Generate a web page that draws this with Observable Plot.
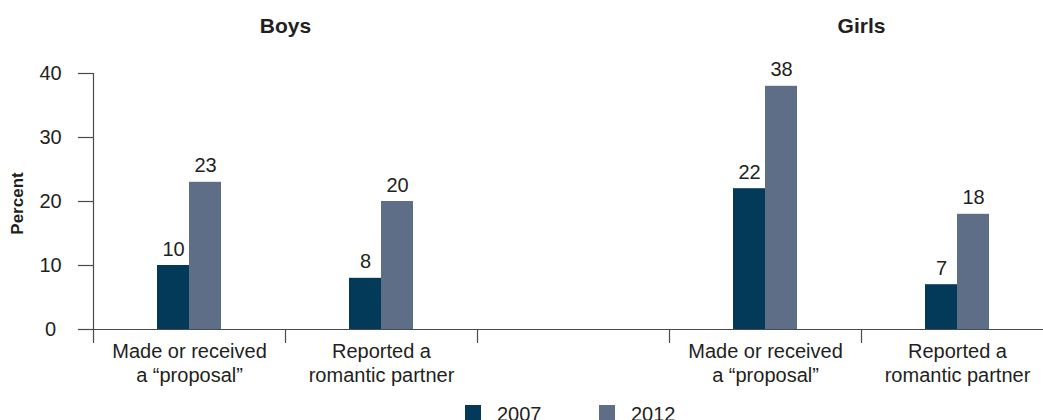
<!DOCTYPE html>
<html>
<head>
<meta charset="utf-8">
<script src="https://cdn.jsdelivr.net/npm/d3@7"></script>
<script src="https://cdn.jsdelivr.net/npm/@observablehq/plot@0.6"></script>
<style>
  body { margin: 0; background: #fff; font-family: "Liberation Sans", Arial, sans-serif; }
  #legend { display: flex; margin-left: 465px; margin-top: 5px; height: 20px; }
  .item { display: flex; align-items: flex-start; width: 134px; }
  .sw { width: 16px; height: 16px; margin-right: 16px; flex: none; }
  .lab { font-size: 20px; line-height: 20px; margin-top: -1px; color: #231f20; }
</style>
</head>
<body>
<div id="chart"></div>
<div id="legend"></div>
<script>
// ---- data ----
const slots = ["boysProposal", "boysPartner", "gap", "girlsProposal", "girlsPartner"];
const slotLabels = ["Made or received\na \u201cproposal\u201d", "Reported a\nromantic partner", "", "Made or received\na \u201cproposal\u201d", "Reported a\nromantic partner"];
const groups = ["Boys", "Girls"];
const groupTitleSlots = ["boysPartner", "girlsPartner"];
const years = ["2007", "2012"];
const values2007 = [10, 8, null, 22, 7];
const values2012 = [23, 20, null, 38, 18];
const yTicks = [0, 10, 20, 30, 40];
const colors = ["#033a59", "#5f6e87"];

const textColor = "#231f20";
const axisColor = "#4a4a4a";

// keep the empty "gap" slot in the data (null values) so its facet is not treated as empty
const data = slots.flatMap((s, i) => [
  {slot: s, year: years[0], value: values2007[i]},
  {slot: s, year: years[1], value: values2012[i]}
]);

const chart = Plot.plot({
  width: 1043,
  height: 400,
  marginTop: 73,
  marginBottom: 71,
  marginLeft: 93,
  marginRight: 0,
  style: {fontFamily: "'Liberation Sans', Arial, sans-serif", color: textColor, background: "#fff"},
  fx: {domain: slots, range: [93, 1053], padding: 0, axis: null, label: null},
  x: {domain: years, paddingInner: 0, paddingOuter: 2, axis: null},
  y: {domain: [0, 40], axis: null},
  color: {domain: years, range: colors},
  marks: [
    Plot.barY(data, {fx: "slot", x: "year", y: "value", fill: "year"}),
    Plot.ruleY([0], {stroke: axisColor, strokeWidth: 1.2}),
    Plot.frame({anchor: "left", facetAnchor: "left", stroke: axisColor, strokeWidth: 1.2}),
    Plot.text(data, {fx: "slot", x: "year", y: "value", text: d => d.value == null ? null : String(d.value), dy: -10, lineAnchor: "bottom", fontSize: 20, fill: textColor}),
    Plot.axisY({ticks: yTicks, tickSize: 15, tickPadding: 28, textAnchor: "middle", label: null, fontSize: 20, stroke: axisColor, strokeWidth: 1.2}),
    Plot.axisFx({anchor: "bottom", tickSize: 14, tickPadding: 0, dx: -96, tickFormat: () => "", label: null, stroke: axisColor, strokeWidth: 1.2}),
    Plot.axisFx({anchor: "bottom", tickSize: 0, tickPadding: 11, tickFormat: s => slotLabels[slots.indexOf(s)], fontSize: 20, lineHeight: 1.2, label: null}),
    Plot.axisFx({anchor: "top", ticks: groupTitleSlots, tickSize: 0, tickPadding: 41, dx: -96, tickFormat: s => groups[groupTitleSlots.indexOf(s)], fontSize: 21, fontWeight: "bold", label: null}),
    Plot.text(["Percent"], {fx: () => slots[0], frameAnchor: "left", text: d => d, rotate: -90, textAnchor: "middle", dx: -76, dy: 2, fontWeight: "bold", fontSize: 17, fill: textColor})
  ]
});
document.getElementById("chart").appendChild(chart);

const legend = document.getElementById("legend");
years.forEach((y, i) => {
  const item = document.createElement("div");
  item.className = "item";
  const sw = document.createElement("div");
  sw.className = "sw";
  sw.style.background = colors[i];
  const lab = document.createElement("span");
  lab.className = "lab";
  lab.textContent = y;
  item.appendChild(sw);
  item.appendChild(lab);
  legend.appendChild(item);
});
</script>
</body>
</html>
